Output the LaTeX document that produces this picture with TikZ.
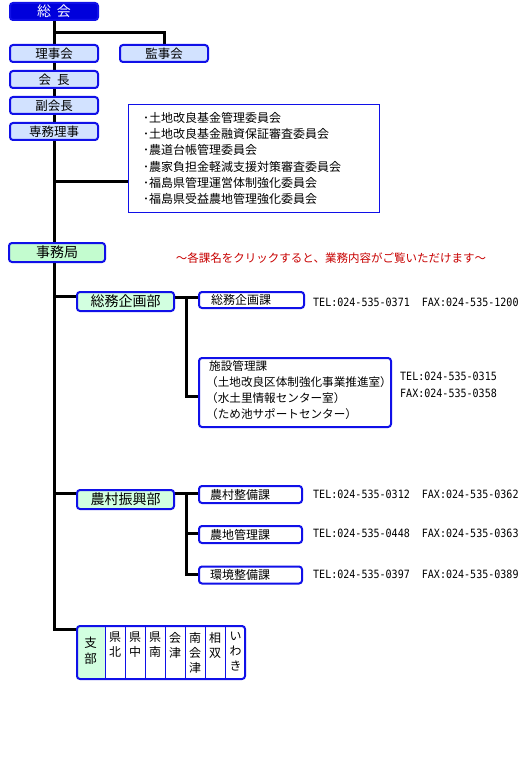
\documentclass[tikz,border=0pt]{standalone}
\usepackage{fontspec}
\setmainfont{Noto Sans CJK JP}
\newfontfamily\monof[FakeStretch=0.88]{DejaVu Sans Mono}
\usetikzlibrary{backgrounds,calc}
\definecolor{bblue}{RGB}{16,16,232}
\definecolor{dblue}{RGB}{0,0,220}
\definecolor{lblue}{RGB}{210,226,255}
\definecolor{lgreen}{RGB}{195,252,207}
\definecolor{lgreentwo}{RGB}{210,255,224}
\definecolor{dred}{RGB}{200,0,0}
\begin{document}
\begin{tikzpicture}[x=1pt,y=-1pt,
  conn/.style={line width=3pt, draw=black},
  bx/.style={draw=bblue, line width=2pt, rounded corners=3pt, inner sep=0pt},
  upper/.style={bx, fill=lblue, minimum width=88pt, minimum height=17pt, font=\fontsize{12.5}{15}\selectfont},
  bu/.style={bx, fill=lgreentwo, minimum width=97pt, minimum height=19pt, font=\fontsize{14}{16}\selectfont},
  ka/.style={bx, fill=white, minimum width=103pt, minimum height=17pt},
  katxt/.style={anchor=west, inner sep=0pt, font=\fontsize{12}{16}\selectfont, align=left},
  tel/.style={anchor=west, inner sep=0pt, font=\monof\fontsize{11.4}{17}\selectfont, align=left},
  celltxt/.style={inner sep=0pt, align=center, font=\fontsize{12}{15}\selectfont}]
\useasboundingbox (0,0) rectangle (520,770);

% top part
\node[bx, fill=dblue, text=white, minimum width=88pt, minimum height=17pt, font=\fontsize{14}{16}\selectfont] (soukai) at (54,11.5) {総\hspace{6pt}会};
\node[upper] (rijikai) at (54,53.5) {理事会};
\node[upper] (kanjikai) at (164,53.5) {監事会};
\node[upper] (kaicho) at (54,79.5) {会\hspace{6pt}長};
\node[upper] (fuku) at (54,105.5) {副会長};
\node[upper] (senmu) at (54,131.5) {専務理事};

\node[draw=bblue, line width=1pt, fill=white, minimum width=251pt, minimum height=108pt, inner sep=0pt] (comm) at (254,158.5) {};
\node[katxt, font=\fontsize{12}{16.2}\selectfont] (commtxt) at ([xshift=15pt]comm.west) {･土地改良基金管理委員会\\･土地改良基金融資保証審査委員会\\･農道台帳管理委員会\\･農家負担金軽減支援対策審査委員会\\･福島県管理運営体制強化委員会\\･福島県受益農地管理強化委員会};

\node[bx, fill=lgreen, minimum width=96pt, minimum height=19pt, font=\fontsize{14}{16}\selectfont] (jimu) at (57,252.5) {事務局};
\node[inner sep=0pt, text=dred, font=\fontsize{11.5}{14}\selectfont] (note) at (331,258) {～各課名をクリックすると、業務内容がご覧いただけます～};

% 総務企画部
\node[bu] (bu1) at (125.5,301.5) {総務企画部};
\node[ka, minimum width=105pt, minimum height=16pt] (ka1) at (251.5,300) {};
\node[katxt] (ka1txt) at ([xshift=13pt]ka1.west) {総務企画課};
\node[tel] (tel1) at (313,302) {TEL:024-535-0371\ \ FAX:024-535-1200};

\node[ka, minimum width=192pt, minimum height=69pt] (ka2) at (295,392.5) {};
\node[katxt, font=\fontsize{11.6}{16}\selectfont] (ka2txt) at (206,390) {\hspace{3pt}施設管理課\\（土地改良区体制強化事業推進室）\\（水土里情報センター室）\\（ため池サポートセンター）};
\node[tel] (tel2) at (400,384.5) {TEL:024-535-0315\\FAX:024-535-0358};

% 農村振興部
\node[bu] (bu2) at (125.5,499.5) {農村振興部};
\node[ka] (ka3) at (250.5,494.5) {};
\node[katxt] (ka3txt) at ([xshift=12pt]ka3.west) {農村整備課};
\node[tel] (tel3) at (313,494) {TEL:024-535-0312\ \ FAX:024-535-0362};
\node[ka] (ka4) at (250.5,534.5) {};
\node[katxt] (ka4txt) at ([xshift=12pt]ka4.west) {農地管理課};
\node[tel] (tel4) at (313,533.5) {TEL:024-535-0448\ \ FAX:024-535-0363};
\node[ka] (ka5) at (250.5,575) {};
\node[katxt] (ka5txt) at ([xshift=12pt]ka5.west) {環境整備課};
\node[tel] (tel5) at (313,574) {TEL:024-535-0397\ \ FAX:024-535-0389};

% 支部
\node[bx, minimum width=168pt, minimum height=53pt] (shibu) at (161,652.5) {};
\foreach \x in {105,125,145,165,185,205,225} \draw[draw=bblue, line width=1pt] (\x,626) -- (\x,679);
\node[celltxt, font=\fontsize{12.5}{16}\selectfont] (c0) at (90.5,651) {支\\部};
\node[celltxt, anchor=north] (c1) at (115,632) {県\\北};
\node[celltxt, anchor=north] (c2) at (135,632) {県\\中};
\node[celltxt, anchor=north] (c3) at (155,632) {県\\南};
\node[celltxt, anchor=north] (c4) at (175,632) {会\\津};
\node[celltxt, anchor=north] (c5) at (195,632) {南\\会\\津};
\node[celltxt, anchor=north] (c6) at (215,632) {相\\双};
\node[celltxt, anchor=north] (c7) at (235.5,632) {い\\わ\\き};

% connectors
\coordinate (j0) at (54,32.5);
\coordinate (j2) at (54,181);
\coordinate (j3) at (54,296.5);
\coordinate (j4) at (54,493);
\coordinate (j5) at (54,629);
\coordinate (k1) at (186.5,297.5);
\coordinate (k2) at (186.5,396.5);
\coordinate (k3) at (186.5,493.5);
\coordinate (k4) at (186.5,533.5);
\coordinate (k5) at (186.5,574.5);

\begin{scope}[on background layer]
  \fill[white] (0,0) rectangle (520,770);
  \begin{scope}
    \clip[rounded corners=3pt] (shibu.north west) rectangle (shibu.south east);
    \fill[lgreentwo] (shibu.north west) rectangle (105,680);
  \end{scope}
  \draw[conn] (soukai.south) -- (j5) -- (j5 -| shibu.west);
  \draw[conn] (j0) -| (kanjikai.north);
  \draw[conn] (j2) -- (j2 -| comm.west);
  \draw[conn] (j3) -- (j3 -| bu1.west);
  \draw[conn] (bu1.east |- k1) -- (k1 -| ka1.west);
  \draw[conn] (k1) -- (k2) -- (k2 -| ka2.west);
  \draw[conn] (j4) -- (j4 -| bu2.west);
  \draw[conn] (bu2.east |- k3) -- (k3 -| ka3.west);
  \draw[conn] (k3) -- (k5) -- (k5 -| ka5.west);
  \draw[conn] (k4) -- (k4 -| ka4.west);
\end{scope}
\end{tikzpicture}
\end{document}
